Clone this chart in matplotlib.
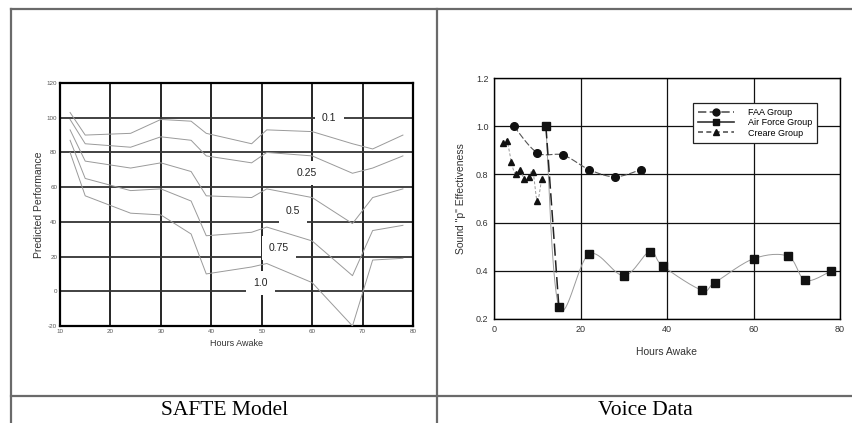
import numpy as np
import matplotlib
matplotlib.use("Agg")
from matplotlib import pyplot as plt
from matplotlib.lines import Line2D

# SAFTE model curves (hours awake vs predicted performance)
safte_hours = [12, 15, 24, 30, 36, 39, 48, 51, 60, 68, 72, 78]
safte_levels = ["0.1", "0.25", "0.5", "0.75", "1.0"]
safte_01 = [103, 90, 91, 99, 98, 91, 85, 93, 92, 85, 82, 90]
safte_025 = [99, 85, 83, 89, 87, 78, 74, 80, 78, 68, 71, 78]
safte_05 = [93, 75, 71, 74, 69, 55, 54, 59, 54, 39, 54, 59]
safte_075 = [87, 65, 58, 59, 52, 32, 34, 37, 29, 9, 35, 38]
safte_10 = [80, 55, 45, 44, 33, 10, 14, 16, 5, -20, 18, 19]
safte_curves = [safte_01, safte_025, safte_05, safte_075, safte_10]
safte_label_x = [63.4, 59.0, 56.2, 53.4, 49.8]
safte_label_y = [100, 68, 46, 25, 5]

# Voice data groups
faa_hours = [4.6, 10, 16, 22, 28, 34]
faa_p = [1.00, 0.89, 0.88, 0.82, 0.79, 0.82]
af_hours = [12, 15, 22, 30, 36, 39, 48, 51, 60, 68, 72, 78]
af_p = [1.00, 0.25, 0.47, 0.38, 0.48, 0.42, 0.32, 0.35, 0.45, 0.46, 0.36, 0.40]
creare_hours = [2, 3, 4, 5, 6, 7, 8, 9, 10, 11]
creare_p = [0.93, 0.94, 0.85, 0.80, 0.82, 0.78, 0.79, 0.81, 0.69, 0.78]


def smooth(x, y, n=16):
    # Catmull-Rom spline through the points, used only to draw the connecting line
    x = np.asarray(x, float)
    y = np.asarray(y, float)
    px = np.concatenate([[x[0]], x, [x[-1]]])
    py = np.concatenate([[y[0]], y, [y[-1]]])
    xs, ys = [], []
    t = np.linspace(0, 1, n)
    for i in range(1, len(px) - 2):
        for p, out in ((px, xs), (py, ys)):
            p0, p1, p2, p3 = p[i - 1], p[i], p[i + 1], p[i + 2]
            out.extend(0.5 * ((2 * p1) + (-p0 + p2) * t
                              + (2 * p0 - 5 * p1 + 4 * p2 - p3) * t ** 2
                              + (-p0 + 3 * p1 - 3 * p2 + p3) * t ** 3))
    return xs, ys


plt.rcParams['font.family'] = ['Liberation Sans', 'DejaVu Sans']
plt.rcParams['axes.unicode_minus'] = False
fig = plt.figure(figsize=(8.52, 4.23), dpi=100)

# table frame around the two panels
W, H = 852.0, 423.0
frame_kw = dict(color='#6a6a6a', lw=1.6)
for (x0, y0, x1, y1) in [(11, 9, 852, 9), (11, 9, 11, 423), (437, 9, 437, 423),
                         (11, 396, 852, 396)]:
    fig.add_artist(Line2D([x0 / W, x1 / W], [1 - y0 / H, 1 - y1 / H], **frame_kw))

fig.text(225 / W, 1 - 410 / H, "SAFTE Model", family='Liberation Serif',
         fontsize=15.5, ha='center', va='center')
fig.text(645 / W, 1 - 410 / H, "Voice Data", family='Liberation Serif',
         fontsize=15.5, ha='center', va='center')

# ---- left panel: SAFTE model ----
ax1 = fig.add_axes([60 / W, 1 - 326 / H, 353 / W, 243 / H])
for vals in safte_curves:
    ax1.plot(safte_hours, vals, color='#9a9a9a', lw=0.7, zorder=3)
for lab, lx, ly in zip(safte_levels, safte_label_x, safte_label_y):
    ax1.text(lx, ly, lab, fontsize=7.5, ha='center', va='center', color='#222222',
             zorder=2, bbox=dict(facecolor='white', edgecolor='none', pad=5))
ax1.set_xlim(10, 80)
ax1.set_ylim(-20, 120)
ax1.set_xticks(np.arange(10, 81, 10))
ax1.set_yticks(np.arange(-20, 121, 20))
ax1.set_axisbelow(True)
ax1.grid(True, axis='x', color='black', lw=1.2)
ax1.grid(True, axis='y', color='#333333', lw=1.3)
ax1.tick_params(length=0, labelsize=4.5, labelcolor='#555555', pad=2)
for s in ax1.spines.values():
    s.set_linewidth(1.6)
ax1.set_ylabel("Predicted Performance", fontsize=7.5, color='#333333', labelpad=2)
ax1.set_xlabel("Hours Awake", fontsize=6.5, color='#333333', labelpad=4)

# ---- right panel: voice data ----
ax2 = fig.add_axes([494 / W, 1 - 319 / H, 346 / W, 241 / H])
sx, sy = smooth(faa_hours, faa_p)
ax2.plot(sx, sy, color='#555555', lw=0.8, ls=(0, (6, 2)))
sx, sy = smooth(af_hours, af_p)
ax2.plot(sx, sy, color='#9a9a9a', lw=0.7)
sx, sy = smooth(af_hours[:2], af_p[:2])
ax2.plot(sx, sy, color='#222222', lw=1.1, ls=(0, (8, 3)))
sx, sy = smooth(creare_hours, creare_p)
ax2.plot(sx, sy, color='#9a9a9a', lw=0.7, ls=(0, (3, 2)))
ax2.plot(faa_hours, faa_p, 'o', color='#111111', ms=5.5)
ax2.plot(af_hours, af_p, 's', color='#111111', ms=5.5)
ax2.plot(creare_hours, creare_p, '^', color='#111111', ms=5)

handles = [
    Line2D([], [], color='#555555', lw=1.2, ls=(0, (5, 2)), marker='o', ms=5, mfc='#111111', mec='#111111'),
    Line2D([], [], color='#333333', lw=1.2, marker='s', ms=5, mfc='#111111', mec='#111111'),
    Line2D([], [], color='#555555', lw=1.2, ls=(0, (3, 2)), marker='^', ms=4.5, mfc='#111111', mec='#111111'),
]
leg = ax2.legend(handles, ["FAA Group", "Air Force Group", "Creare Group"],
                 loc='upper right', bbox_to_anchor=(0.948, 0.917), fontsize=6.5,
                 frameon=True, fancybox=False, edgecolor='#222222', framealpha=1,
                 handlelength=4, handletextpad=1.5, labelspacing=0.15,
                 borderpad=0.6)
leg.get_frame().set_linewidth(0.9)
ax2.set_xlim(0, 80)
ax2.set_ylim(0.2, 1.2)
ax2.set_xticks([0, 20, 40, 60, 80])
ax2.set_yticks([0.2, 0.4, 0.6, 0.8, 1.0, 1.2])
ax2.set_yticklabels(["0.2", "0.4", "0.6", "0.8", "1.0", "1.2"])
ax2.set_axisbelow(True)
ax2.grid(True, color='#111111', lw=0.9)
ax2.tick_params(length=0, labelsize=6.5, labelcolor='#333333', pad=4)
for s in ax2.spines.values():
    s.set_linewidth(1.0)
ax2.set_ylabel('Sound "p" Effectiveness', fontsize=7.5, color='#333333', labelpad=7)
ax2.set_xlabel("Hours Awake", fontsize=7.5, color='#333333', labelpad=10)

fig.savefig("out.png", dpi=100)
